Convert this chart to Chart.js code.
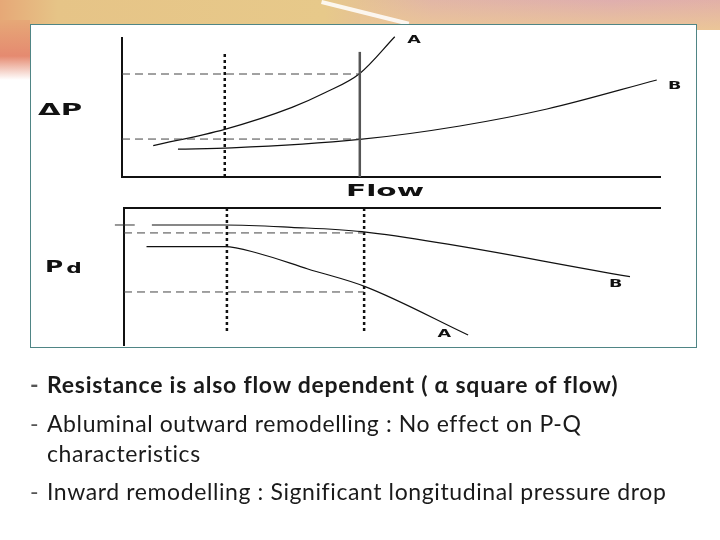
<!doctype html>
<html>
	<head>
		<meta charset="UTF-8" />
		<script src="https://cdn.jsdelivr.net/npm/chart.js"></script>
		<style type="text/css">
			body{margin:0;width:720px;height:540px;position:relative;overflow:hidden;background:#fff;font-family:"DejaVu Sans",sans-serif;}
			.band{position:absolute;left:0;top:0;width:720px;height:30px;background:linear-gradient(90deg,#e6a877 0%,#e6c487 8%,#e7c98a 45%,#e2b6a6 60%,#dfaeae 85%,#e2b0a8 100%);}
			.band2{position:absolute;left:360px;top:0;width:360px;height:30px;background:linear-gradient(180deg,rgba(222,170,170,0) 0%,rgba(236,200,150,0.9) 100%);}
			.swoosh{position:absolute;left:322px;top:0px;width:90px;height:4px;background:rgba(255,255,255,0.85);transform:rotate(14deg);transform-origin:0 0;}
			.leftfade{position:absolute;left:0;top:20px;width:30px;height:60px;background:linear-gradient(180deg,#e6a877 0%,#e58a70 60%,rgba(255,255,255,0) 100%);}
			.box{position:absolute;left:30px;top:24px;width:665px;height:322px;border:1.5px solid #4f8585;background:#fff;}
			canvas{position:absolute;left:0;top:0;}
			.lbl{position:absolute;font-weight:bold;color:#111;transform-origin:0 0;white-space:nowrap;}
			.txt{position:absolute;left:30px;font-family:Lato,"Noto Sans",sans-serif;font-size:23px;line-height:28px;letter-spacing:0.6px;color:#1a1a1a;white-space:nowrap;font-variant-ligatures:none;}
			.txt span{display:inline-block;width:17px;color:#555;letter-spacing:0;}
		</style>
	</head>
	<body>
		<div class="band"></div>
		<div class="band2"></div>
		<div class="swoosh"></div>
		<div class="leftfade"></div>
		<div class="box"></div>
		<canvas id="topChart" width="720" height="540"></canvas>
		<canvas id="botChart" width="720" height="540"></canvas>
		<div class="lbl" style="left:38px;top:101px;font-size:15px;transform:scaleX(1.95);">&Delta;P</div>
		<div class="lbl" style="left:346px;top:181px;font-size:16px;transform:scaleX(1.85);">Flow</div>
		<div class="lbl" style="left:45px;top:257px;font-size:16px;letter-spacing:2px;transform:scaleX(1.55);">P<span style="font-size:14px;vertical-align:-1px;">d</span></div>
		<div class="txt" style="top:370px;font-weight:bold;letter-spacing:0.75px;"><span>-</span>Resistance is also flow dependent ( &alpha; square of flow)</div>
		<div class="txt" style="top:409px;"><span>-</span>Abluminal outward remodelling : No effect on P-Q</div>
		<div class="txt" style="top:439px;"><span></span>characteristics</div>
		<div class="txt" style="top:477px;"><span>-</span>Inward remodelling : Significant longitudinal pressure drop</div>
		<script>
			// top panel: delta P vs flow
			const topA = [[5.8,2.26],[19.1,3.43],[31.6,5.01],[37.7,6.06],[44.2,7.45],[50.7,10.09]];
			const topB = [[10.4,2.01],[20.4,2.09],[44.2,2.70],[62.8,3.67],[79,4.89],[99.4,6.98]];
			const topFlowLow = 19.1, topFlowHigh = 44.2;
			const topLevelA = 7.41, topLevelB = 2.73;
			// bottom panel: Pd vs flow
			const botA = [[4.2,7.18],[18.8,7.18],[25,6.7],[34.3,5.55],[45,4.26],[64.2,0.73]];
			const botB = [[5.2,8.76],[18.8,8.76],[31.2,8.59],[44.4,8.27],[94.4,4.99]];
			const botFlowLow = 19.2, botFlowHigh = 44.8;
			const botLevelB = 8.18, botLevelA = 3.87;

			const pts = arr => arr.map(p => ({x: p[0], y: p[1]}));

			// curve name labels drawn next to line ends
			const curveLabels = {
				id: 'curveLabels',
				afterDatasetsDraw(chart, args, opts) {
					const ctx = chart.ctx;
					ctx.save();
					ctx.fillStyle = '#111';
					ctx.font = 'bold 11px "DejaVu Sans"';
					opts.items.forEach(it => {
						const px = chart.scales.x.getPixelForValue(it.x);
						const py = chart.scales.y.getPixelForValue(it.y);
						ctx.save();
						ctx.translate(px, py);
						ctx.scale(1.6, 0.9);
						ctx.textBaseline = 'middle';
						ctx.fillText(it.text, 0, 0);
						ctx.restore();
					});
					ctx.restore();
				}
			};

			function curve(data) {
				return {data: pts(data), showLine: true, borderColor: '#111', borderWidth: 1.2,
					pointRadius: 0, cubicInterpolationMode: 'monotone', clip: false};
			}
			function guide(data, dash, width, color) {
				return {data: pts(data), showLine: true, borderColor: color, borderWidth: width,
					borderDash: dash, pointRadius: 0, clip: false};
			}
			function axisOpts(pos) {
				return {type: 'linear', position: pos, min: 0, max: pos === 'left' || pos === 'right' ? 10 : 100,
					grid: {display: false, drawTicks: false}, ticks: {display: false},
					border: {display: true, color: '#111', width: 2},
					afterFit: s => { if (s.isHorizontal()) s.height = 0; else s.width = 0; }};
			}

			new Chart(document.getElementById('topChart'), {
				type: 'scatter',
				data: {datasets: [
					guide([[0, topLevelA], [topFlowHigh, topLevelA]], [8, 5], 1, '#444'),
					guide([[0, topLevelB], [topFlowHigh, topLevelB]], [8, 5], 1, '#444'),
					guide([[topFlowLow, 0], [topFlowLow, 8.9]], [3, 3], 2.5, '#111'),
					guide([[topFlowHigh, 0], [topFlowHigh, 9.0]], [], 2.5, '#555'),
					curve(topA),
					curve(topB)
				]},
				options: {
					responsive: false, animation: false,
					layout: {padding: {left: 122, right: 60, top: 38, bottom: 363}},
					scales: {x: axisOpts('bottom'), y: axisOpts('left')},
					plugins: {legend: {display: false}, tooltip: {enabled: false},
						curveLabels: {items: [{text: 'A', x: 53, y: 9.8}, {text: 'B', x: 101.5, y: 6.5}]}}
				},
				plugins: [curveLabels]
			});

			new Chart(document.getElementById('botChart'), {
				type: 'scatter',
				data: {datasets: [
					guide([[0, botLevelB], [botFlowHigh, botLevelB]], [8, 5], 1, '#444'),
					guide([[0, botLevelA], [botFlowHigh, botLevelA]], [8, 5], 1, '#444'),
					guide([[botFlowLow, 10], [botFlowLow, 1.0]], [3, 3], 2.5, '#111'),
					guide([[botFlowHigh, 10], [botFlowHigh, 1.0]], [3, 3], 2.5, '#111'),
					guide([[-1.7, 8.76], [2, 8.76]], [], 1, '#333'),
					curve(botA),
					curve(botB)
				]},
				options: {
					responsive: false, animation: false,
					layout: {padding: {left: 124, right: 60, top: 208, bottom: 195}},
					scales: {x: axisOpts('top'), y: axisOpts('left')},
					plugins: {legend: {display: false}, tooltip: {enabled: false},
						curveLabels: {items: [{text: 'A', x: 58.5, y: 0.8}, {text: 'B', x: 90.5, y: 4.4}]}}
				},
				plugins: [curveLabels]
			});
		</script>
	</body>
</html>
